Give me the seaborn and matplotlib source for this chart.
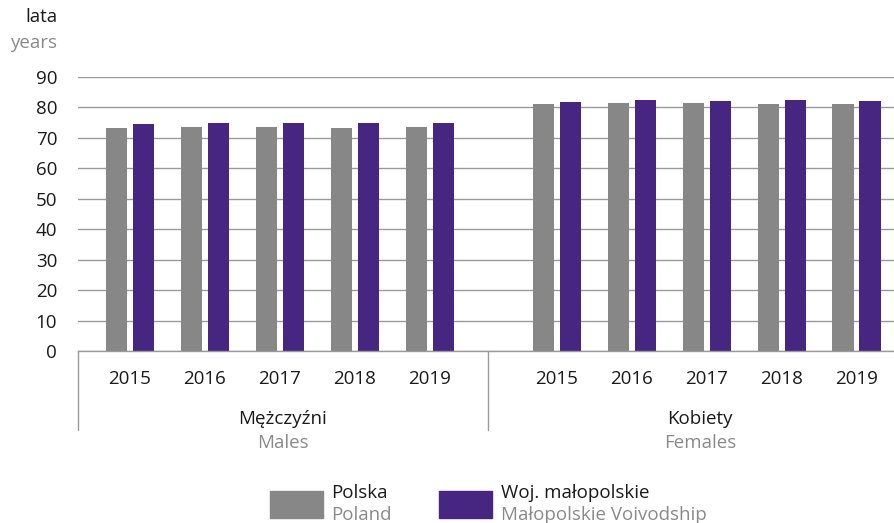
import numpy as np
import pandas as pd
import matplotlib
matplotlib.use("Agg")
import matplotlib.pyplot as plt
import matplotlib.transforms as mtransforms
from matplotlib.patches import Rectangle
import seaborn as sns

# Data
years = ["2015", "2016", "2017", "2018", "2019"]
groups = ["Mężczyźni", "Kobiety"]
groups_en = ["Males", "Females"]
series = ["Polska", "Woj. małopolskie"]
series_en = ["Poland", "Małopolskie Voivodship"]
polska_m = [73.3, 73.6, 73.6, 73.4, 73.6]
malopolska_m = [74.7, 75.0, 75.0, 75.0, 75.0]
polska_k = [81.2, 81.5, 81.5, 81.2, 81.2]
malopolska_k = [81.9, 82.5, 82.2, 82.5, 82.2]

# layout: slot positions along x (females block shifted right)
group_offset = [0.0, 5.69]
pos = [[i + off for i in range(len(years))] for off in group_offset]

rows = []
for g, vals in enumerate([(polska_m, malopolska_m), (polska_k, malopolska_k)]):
    for s, v in enumerate(vals):
        for i, y in enumerate(years):
            rows.append({"pos": pos[g][i], "year": y, "region": series[s], "value": v[i]})
df = pd.DataFrame(rows)

GRAY = "#878787"
PURPLE = "#472682"
TXT = "#1a1a1a"
TXT2 = "#8a8a8a"

sns.set_style("white")
plt.rcParams["font.family"] = ["Open Sans", "DejaVu Sans"]
FS = 13.5

W, H = 894, 523
fig = plt.figure(figsize=(W / 100, H / 100), dpi=100)
ax = fig.add_axes([78 / W, 1 - 351 / H, (894 - 78) / W, (351 - 77) / H])

sns.barplot(data=df, x="pos", y="value", hue="region", native_scale=True,
            width=0.72, gap=0.22, palette=[GRAY, PURPLE], saturation=1,
            errorbar=None, legend=False, linewidth=0, ax=ax)

ax.set_xlim(-0.693, 10.19)
ax.set_ylim(0, 90)
ax.set_yticks(range(0, 91, 10))
ax.tick_params(axis="y", length=0, pad=15, labelsize=FS, labelcolor=TXT)
ax.set_xticks(pos[0] + pos[1])
ax.set_xticklabels(years + years)
ax.tick_params(axis="x", length=0, pad=13.5, labelsize=FS, labelcolor=TXT)
ax.set_xlabel("")
ax.set_ylabel("")
ax.yaxis.grid(True, color="#9a9a9a", lw=1)
ax.set_axisbelow(True)
for s in ["top", "right", "left"]:
    ax.spines[s].set_visible(False)
ax.spines["bottom"].set_color("#9a9a9a")
ax.spines["bottom"].set_linewidth(1)

# group separators below the axis
trans = mtransforms.blended_transform_factory(ax.transData, ax.transAxes)
for xs in [-0.693, 4.77]:
    ax.plot([xs, xs], [0, -0.288], transform=trans, color="#9a9a9a", lw=1, clip_on=False)

# group labels
for cx, g, ge in zip([2.04, 7.6], groups, groups_en):
    ax.text(cx, -0.247, g, transform=trans, ha="center", va="center", fontsize=FS, color=TXT)
    ax.text(cx, -0.337, ge, transform=trans, ha="center", va="center", fontsize=FS, color=TXT2)

# unit labels
fig.text(57 / W, 1 - 17 / H, "lata", ha="right", va="center", fontsize=FS, color=TXT)
fig.text(57 / W, 1 - 43 / H, "years", ha="right", va="center", fontsize=FS, color=TXT2)

# legend
for x0, tx, c, s, se in [(270, 331, GRAY, series[0], series_en[0]),
                         (439, 501, PURPLE, series[1], series_en[1])]:
    fig.add_artist(Rectangle((x0 / W, 1 - 518 / H), 53 / W, 27 / H,
                             transform=fig.transFigure, color=c))
    fig.text(tx / W, 1 - 493 / H, s, ha="left", va="center", fontsize=FS, color=TXT)
    fig.text(tx / W, 1 - 515 / H, se, ha="left", va="center", fontsize=FS, color=TXT2)

fig.savefig("out.png", dpi=100)
